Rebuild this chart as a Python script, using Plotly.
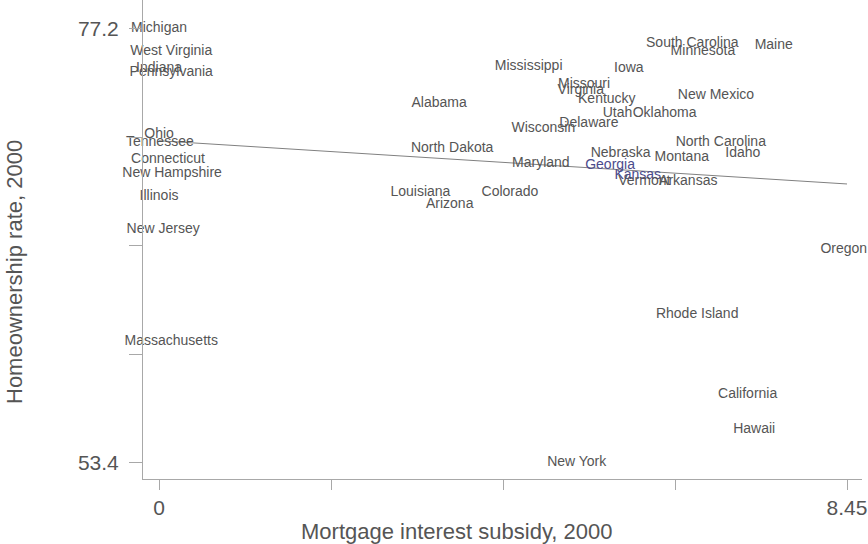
import plotly.graph_objects as go

states = ["Michigan", "West Virginia", "Indiana", "Pennsylvania", "Ohio", "Tennessee",
          "Connecticut", "New Hampshire", "Illinois", "New Jersey", "Massachusetts",
          "Mississippi", "Missouri", "Virginia", "Kentucky", "Utah", "Oklahoma", "Alabama",
          "Wisconsin", "Delaware", "North Dakota", "Maryland", "Georgia", "Louisiana",
          "Arizona", "Colorado", "South Carolina", "Minnesota", "Maine", "Iowa",
          "New Mexico", "North Carolina", "Idaho", "Nebraska", "Montana", "Kansas",
          "Vermont", "Arkansas", "Oregon", "Rhode Island", "California", "Hawaii", "New York"]
subsidy = [0.0, 0.15, 0.0, 0.15, 0.0, 0.01,
           0.11, 0.16, 0.0, 0.05, 0.15,
           4.54, 5.22, 5.18, 5.50, 5.63, 6.21, 3.44,
           4.72, 5.28, 3.60, 4.69, 5.54, 3.21,
           3.57, 4.31, 6.55, 6.68, 7.55, 5.77,
           6.84, 6.90, 7.17, 5.67, 6.42, 5.88,
           5.96, 6.50, 8.41, 6.61, 7.23, 7.31, 5.13]
homeown = [77.20, 75.94, 75.01, 74.79, 71.39, 70.95,
           70.07, 69.25, 67.99, 66.23, 60.04,
           75.12, 74.13, 73.85, 73.31, 72.59, 72.59, 73.14,
           71.77, 71.99, 70.67, 69.85, 69.69, 68.21,
           67.60, 68.26, 76.43, 75.94, 76.32, 75.06,
           73.53, 70.95, 70.35, 70.35, 70.13, 69.19,
           68.81, 68.81, 65.08, 61.52, 57.13, 55.21, 53.45]
highlight = ["Georgia", "Kansas"]

fit_x = [0.0, 8.45]
fit_y = [71.07, 68.70]

x_ticks = [0, 2.1125, 4.225, 6.3375, 8.45]
x_ticktext = ["0", "", "", "", "8.45"]
y_ticks = [53.4, 59.35, 65.3, 71.25, 77.2]
y_ticktext = ["53.4", "", "", "", "77.2"]

FONT = "Liberation Sans, Arial, sans-serif"
colors = ["#4b4b8c" if s in highlight else "#555555" for s in states]

fig = go.Figure()
fig.add_trace(go.Scatter(x=fit_x, y=fit_y, mode="lines",
                         line=dict(color="#808080", width=1), hoverinfo="skip"))
fig.add_trace(go.Scatter(x=subsidy, y=homeown, mode="text", text=states,
                         textposition="middle center", cliponaxis=False,
                         textfont=dict(family=FONT, size=14, color=colors)))

fig.update_layout(
    width=868, height=544,
    margin=dict(l=143, r=6, t=0, b=65),
    plot_bgcolor="white", paper_bgcolor="white",
    showlegend=False,
    font=dict(family=FONT, color="#555555"),
    xaxis=dict(range=[-0.197, 8.634], showgrid=False, zeroline=False,
               showline=True, linecolor="#a8a8a8", linewidth=1,
               ticks="outside", ticklen=10, tickcolor="#a8a8a8",
               tickvals=x_ticks, ticktext=x_ticktext, ticklabelstandoff=0,
               tickfont=dict(size=21, color="#555555")),
    yaxis=dict(range=[52.52, 78.79], showgrid=False, zeroline=False,
               showline=True, linecolor="#a8a8a8", linewidth=1,
               ticks="outside", ticklen=13, tickcolor="#a8a8a8",
               tickvals=y_ticks, ticktext=y_ticktext, ticklabelstandoff=6,
               tickfont=dict(size=21, color="#555555")),
    annotations=[
        dict(text="Mortgage interest subsidy, 2000", xref="paper", yref="paper",
             x=(456 - 143) / 719, y=(479 - 531) / 479, xanchor="center", yanchor="middle",
             showarrow=False, font=dict(size=22, color="#555555", family=FONT)),
        dict(text="Homeownership rate, 2000", xref="paper", yref="paper",
             x=(14 - 143) / 719, y=1 - 272 / 479, xanchor="center", yanchor="middle",
             textangle=-90, showarrow=False,
             font=dict(size=22, color="#555555", family=FONT)),
    ],
)

fig.write_html("out.html")
